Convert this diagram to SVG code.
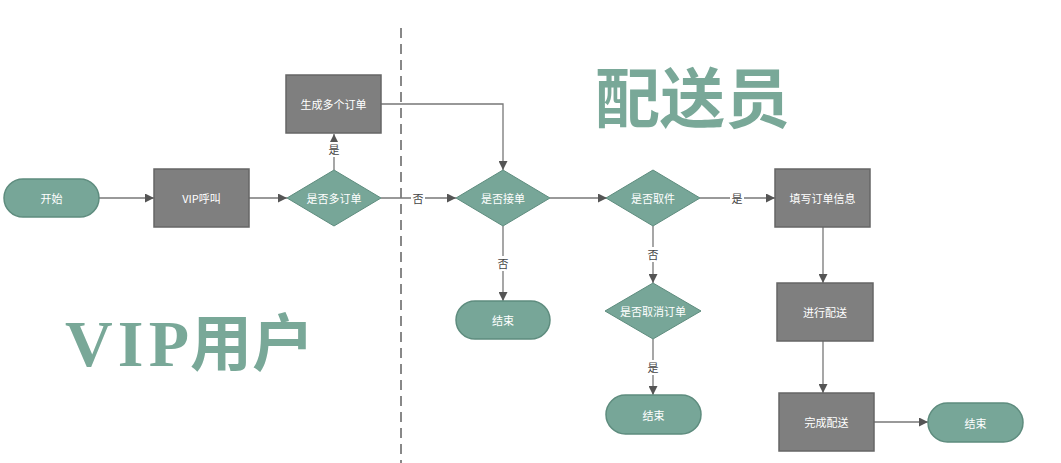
<svg xmlns="http://www.w3.org/2000/svg" width="1061" height="463" viewBox="0 0 1061 463">
<defs>
<marker id="arr" viewBox="0 0 10 10" refX="10" refY="5" markerWidth="9" markerHeight="9" markerUnits="userSpaceOnUse" orient="auto">
<path d="M0,0 L10,5 L0,10 z" fill="#555"/>
</marker>
</defs>
<style>
.term{fill:#77a698;stroke:#5e8c7e;stroke-width:1.5}
.dec{fill:#77a698;stroke:#5e8c7e;stroke-width:1}
.proc{fill:#7f7f7f;stroke:#666;stroke-width:1.5}
.t{font-family:"Noto Sans CJK SC","Liberation Sans",sans-serif;font-size:11px;fill:#fff;text-anchor:middle;dominant-baseline:central}
.lbl{font-family:"Noto Sans CJK SC","Liberation Sans",sans-serif;font-size:11px;fill:#444;text-anchor:middle;dominant-baseline:central}
.lb{fill:#fff}
.c{fill:none;stroke:#777;stroke-width:1.3}
.big{fill:#79a898;font-weight:bold}
</style>
<rect width="1061" height="463" fill="#fff"/>
<line x1="401" y1="28" x2="401" y2="463" stroke="#888" stroke-width="2" stroke-dasharray="10,6"/>
<text class="big" x="595" y="122" font-family="'Noto Sans CJK SC',serif" font-size="65">配送员</text>
<text class="big" x="65" y="366" font-size="66" font-family="'Liberation Serif',serif" textLength="124" lengthAdjust="spacing">VIP</text>
<text class="big" x="190" y="366" font-size="62" font-family="'Noto Sans CJK SC',serif">用户</text>
<g id="connectors">
<line class="c" x1="99" y1="198" x2="154" y2="198" marker-end="url(#arr)"/>
<line class="c" x1="249" y1="198" x2="287" y2="198" marker-end="url(#arr)"/>
<line class="c" x1="334" y1="170" x2="334" y2="134" marker-end="url(#arr)"/>
<polyline class="c" points="381,104 503,104 503,170" marker-end="url(#arr)"/>
<line class="c" x1="381" y1="198" x2="456" y2="198" marker-end="url(#arr)"/>
<line class="c" x1="503" y1="226" x2="503" y2="301" marker-end="url(#arr)"/>
<line class="c" x1="550" y1="198" x2="607" y2="198" marker-end="url(#arr)"/>
<line class="c" x1="700" y1="198" x2="775" y2="198" marker-end="url(#arr)"/>
<line class="c" x1="653" y1="226" x2="653" y2="283" marker-end="url(#arr)"/>
<line class="c" x1="653" y1="339" x2="653" y2="395" marker-end="url(#arr)"/>
<line class="c" x1="823" y1="227" x2="823" y2="283" marker-end="url(#arr)"/>
<line class="c" x1="823" y1="341" x2="823" y2="393" marker-end="url(#arr)"/>
<line class="c" x1="874" y1="422" x2="928" y2="422" marker-end="url(#arr)"/>
<rect class="lb" x="327" y="142" width="14" height="15"/><text class="lbl" x="334" y="149">是</text>
<rect class="lb" x="411" y="191" width="14" height="15"/><text class="lbl" x="418" y="198">否</text>
<rect class="lb" x="496" y="256" width="14" height="15"/><text class="lbl" x="503" y="263">否</text>
<rect class="lb" x="730" y="191" width="14" height="15"/><text class="lbl" x="737" y="198">是</text>
<rect class="lb" x="646" y="247" width="14" height="15"/><text class="lbl" x="653" y="254">否</text>
<rect class="lb" x="646" y="360" width="14" height="15"/><text class="lbl" x="653" y="367">是</text>
</g>
<g id="start"><rect class="term" x="4" y="179" width="95" height="38" rx="19"/><text class="t" x="51.5" y="198">开始</text></g>
<g id="vipcall"><rect class="proc" x="154" y="169" width="95" height="58"/><text class="t" x="201.5" y="198">VIP呼叫</text></g>
<g id="multi"><polygon class="dec" points="334,170 381,198 334,226 287,198"/><text class="t" x="334" y="198">是否多订单</text></g>
<g id="gen"><rect class="proc" x="286" y="75" width="95" height="58"/><text class="t" x="333.5" y="104">生成多个订单</text></g>
<g id="accept"><polygon class="dec" points="503,170 550,198 503,226 456,198"/><text class="t" x="503" y="198">是否接单</text></g>
<g id="end1"><rect class="term" x="456" y="301" width="94" height="38" rx="19"/><text class="t" x="503" y="320">结束</text></g>
<g id="pickup"><polygon class="dec" points="653,170 700,198 653,226 606,198"/><text class="t" x="653" y="198">是否取件</text></g>
<g id="cancel"><polygon class="dec" points="653,283 701,311 653,339 605,311"/><text class="t" x="653" y="311">是否取消订单</text></g>
<g id="end2"><rect class="term" x="606" y="395" width="95" height="39" rx="19.5"/><text class="t" x="653.5" y="414.5">结束</text></g>
<g id="fill"><rect class="proc" x="775" y="169" width="95" height="58"/><text class="t" x="822.5" y="198">填写订单信息</text></g>
<g id="deliver"><rect class="proc" x="777" y="283" width="96" height="58"/><text class="t" x="825" y="312">进行配送</text></g>
<g id="done"><rect class="proc" x="779" y="393" width="95" height="58"/><text class="t" x="826.5" y="422">完成配送</text></g>
<g id="end3"><rect class="term" x="928" y="403" width="95" height="39" rx="19.5"/><text class="t" x="975.5" y="422.5">结束</text></g>
</svg>
